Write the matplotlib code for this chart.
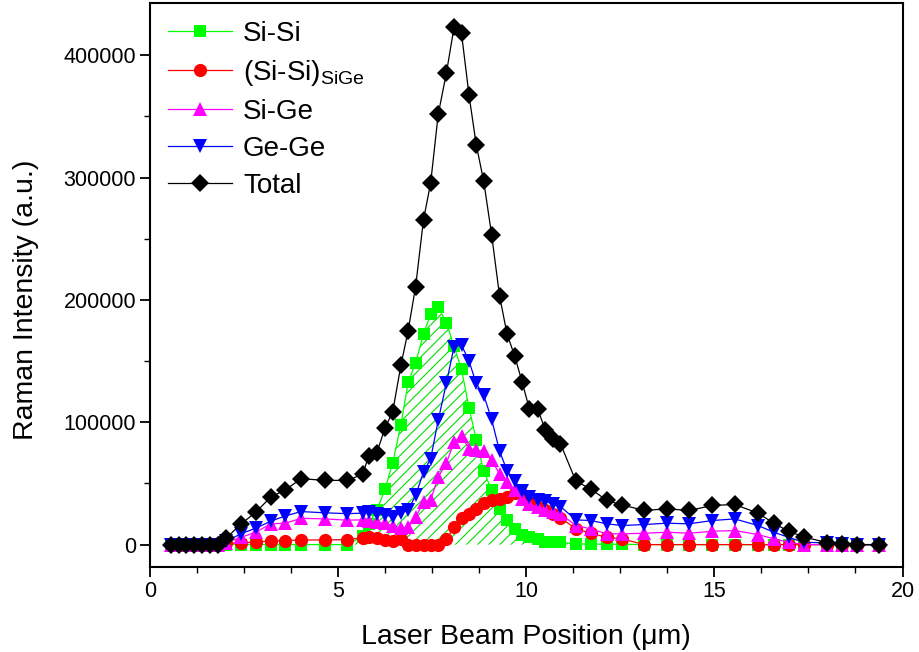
import matplotlib
matplotlib.use("Agg")
import matplotlib.pyplot as plt
from matplotlib.ticker import MultipleLocator

plt.rcParams['font.family'] = ['Liberation Sans', 'DejaVu Sans']
plt.rcParams['mathtext.fontset'] = 'custom'
plt.rcParams['mathtext.rm'] = 'Liberation Sans'
plt.rcParams['mathtext.it'] = 'Liberation Sans'
plt.rcParams['hatch.linewidth'] = 0.8

x = [0.55, 0.76, 0.97, 1.18, 1.39, 1.60, 1.81, 2.02, 2.43, 2.81, 3.21, 3.60, 4.02, 4.64,
     5.24, 5.65, 5.81, 6.03, 6.25, 6.45, 6.67, 6.86, 7.06, 7.27, 7.46, 7.66, 7.88, 8.08,
     8.28, 8.48, 8.67, 8.87, 9.08, 9.29, 9.49, 9.69, 9.89, 10.08, 10.30, 10.51, 10.71,
     10.91, 11.32, 11.71, 12.14, 12.54, 13.14, 13.73, 14.33, 14.95, 15.54, 16.16, 16.58,
     16.97, 17.38, 17.99, 18.38, 18.79, 19.38]

si_si = [0, 0, 0, 0, 0, 0, 0, 0, 0, 0, 0, 0, 0, 0,
         0, 6800, 17000, 28000, 45600, 66800, 98000, 132500, 148300, 172300, 188300, 194000, 181400, 162000,
         143200, 111700, 85800, 60100, 44300, 29300, 20200, 12900, 8000, 6000, 4700, 2500, 2500,
         1900, 500, 500, 300, 300, 0, 0, 0, 0, 0, 0, 0,
         0, 0, 0, 0, 0, 0]

si_si_sige = [0, 0, 0, 0, 0, 0, 0, 1000, 1500, 2000, 3000, 3300, 3800, 3800,
              4100, 5500, 6000, 5500, 3800, 3300, 4500, 0, 0, 0, 0, 0, 4700, 14200,
              21900, 25100, 29300, 33900, 36100, 37500, 38800, 42000, 41500, 35000, 30600, 27900, 25100,
              21900, 12900, 9300, 6000, 4700, 0, 0, 0, 0, 0, 0, 0,
              0, 0, 0, 0, 0, 0]

si_ge = [0, 0, 0, 0, 0, 0, 0, 1500, 6000, 10100, 17000, 17500, 21500, 21000,
         20000, 20200, 19700, 18300, 17500, 15600, 13700, 14200, 22400, 34700, 36600, 55200, 66600, 83900,
         88500, 78400, 77000, 76500, 68900, 57900, 51100, 44300, 37500, 33400, 30600, 27900, 26500,
         25100, 15600, 12900, 8800, 8800, 9300, 10100, 9300, 10900, 11500, 8200, 4700,
         1900, 0, 0, 0, 0, 0]

ge_ge = [0, 0, 0, 0, 0, 0, 0, 2700, 9000, 13400, 19100, 23500, 27000, 26000,
         25300, 25700, 26500, 25100, 24600, 22400, 26000, 27900, 40200, 59300, 70200, 101600, 132200, 161700,
         163100, 150000, 131700, 122100, 102500, 76500, 60500, 52000, 44000, 38800, 36600, 35500, 32800,
         31100, 20200, 19700, 17000, 15600, 16400, 17500, 17000, 19700, 21000, 15600, 10100,
         6000, 1900, 1400, 600, 0, 0]

total = [0, 0, 0, 0, 0, 0, 0, 5200, 17000, 26500, 38800, 44800, 53900, 52500,
         52500, 57400, 72100, 75200, 95600, 108400, 146700, 174600, 210900, 265600, 295600, 351600, 385800, 422700,
         417800, 367200, 327000, 297000, 253300, 203500, 172000, 154500, 133000, 111200, 111200, 93400, 86600,
         82500, 51800, 45600, 36100, 32500, 27900, 29200, 27900, 32000, 32800, 25700, 17500,
         10900, 6300, 1600, 800, 0, 0]

labels = ['Si-Si', r'(Si-Si)$_{\mathrm{SiGe}}$', 'Si-Ge', 'Ge-Ge', 'Total']
colors = ['#00ff00', '#ff0000', '#ff00ff', '#0000ff', '#000000']
markers = ['s', 'o', '^', 'v', 'D']
msizes = [8, 9.5, 10, 10, 9]

fig = plt.figure(figsize=(9.2, 6.52), dpi=100)
ax = fig.add_axes([0.163, 0.130, 0.818, 0.866])

ax.fill_between(x, si_si, 0, facecolor='none', edgecolor='#00dd00', hatch='///', linewidth=0)

for ys, lab, c, m, ms in zip([si_si, si_si_sige, si_ge, ge_ge, total], labels, colors, markers, msizes):
    ax.plot(x, ys, color=c, marker=m, markersize=ms, markeredgewidth=0, linewidth=0.9, label=lab)

ax.set_xlim(0, 20)
ax.set_ylim(-18500, 443000)
ax.xaxis.set_major_locator(MultipleLocator(5))
ax.xaxis.set_minor_locator(MultipleLocator(1.25))
ax.yaxis.set_major_locator(MultipleLocator(100000))
ax.yaxis.set_minor_locator(MultipleLocator(50000))
ax.tick_params(which='major', direction='out', length=7, width=1.3, labelsize=15.5, pad=3)
ax.tick_params(which='minor', direction='out', length=4, width=1.0)
for s in ax.spines.values():
    s.set_linewidth(1.5)

ax.set_xlabel('Laser Beam Position (μm)', fontsize=20.5, labelpad=16)
ax.set_ylabel('Raman Intensity (a.u.)', fontsize=20.5)
ax.yaxis.set_label_coords(-0.148, 0.473)

leg = ax.legend(loc='upper left', frameon=False, fontsize=20, handlelength=2.3,
                borderaxespad=0.25, labelspacing=0.4, handletextpad=0.4)

fig.savefig('out.png', dpi=100)
